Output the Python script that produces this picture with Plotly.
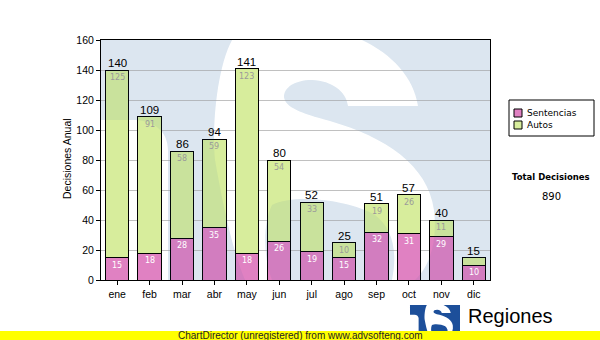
import plotly.graph_objects as go

# ---- data -------------------------------------------------------------
months = ["ene", "feb", "mar", "abr", "may", "jun", "jul", "ago", "sep", "oct", "nov", "dic"]
sentencias = [15, 18, 28, 35, 18, 26, 19, 15, 32, 31, 29, 10]
autos = [125, 91, 58, 59, 123, 54, 33, 10, 19, 26, 11, 5]
y_ticks = [0, 20, 40, 60, 80, 100, 120, 140, 160]
series_names = ["Sentencias", "Autos"]
totals = [s + a for s, a in zip(sentencias, autos)]
grand_total = sum(totals)

# ---- geometry / style -------------------------------------------------
W, H = 600, 340
PL, PR, PT, PB = 101, 490, 40, 280          # plot area in page pixels
PINK = "#e081c2"
GREEN = "#d7ed9c"
MIN_LABEL_VALUE = 8                          # segments smaller than this get no label


def to_paper(x, y):
    """page pixel -> paper coordinates"""
    return (x - PL) / (PR - PL), (PB - y) / (PB - PT)


# "S" emblem outline, drawn in the watermark box (PL..PR, PT..PB)
S_OUTLINE = [
    ("M", [(232, 40)]),
    ("L", [(362, 40)]),
    ("C", [(392, 54), (414, 78), (418, 106)]),
    ("L", [(348, 106)]),
    ("C", [(346, 91), (332, 81), (312, 80)]),
    ("C", [(294, 80), (284, 88), (284, 97)]),
    ("C", [(285, 107), (300, 113), (330, 121)]),
    ("C", [(385, 137), (428, 165), (434, 210)]),
    ("C", [(438, 245), (428, 268), (415, 280)]),
    ("L", [(392, 280)]),
    ("C", [(398, 250), (392, 228), (375, 215)]),
    ("C", [(350, 200), (295, 193), (272, 205)]),
    ("C", [(262, 225), (264, 260), (272, 280)]),
    ("L", [(245, 280)]),
    ("C", [(232, 250), (222, 200), (215, 160)]),
    ("C", [(212, 130), (216, 70), (232, 40)]),
]
S_TERMINAL = [
    ("M", [(101, 120)]),
    ("L", [(135, 120)]),
    ("C", [(155, 121), (168, 132), (168, 150)]),
    ("L", [(168, 280)]),
    ("L", [(101, 280)]),
]
BOX = [("M", [(PL, PT)]), ("L", [(PR, PT)]), ("L", [(PR, PB)]), ("L", [(PL, PB)])]


def path_string(parts, fit):
    out = []
    for sub in parts:
        for cmd, pts in sub:
            coords = " ".join("%.4f,%.4f" % to_paper(*fit(x, y)) for x, y in pts)
            out.append(cmd + coords)
        out.append("Z")
    return " ".join(out)


def fit_box(x0, y0, x1, y1):
    def f(x, y):
        return (x0 + (x - PL) / (PR - PL) * (x1 - x0),
                y0 + (y - PT) / (PB - PT) * (y1 - y0))
    return f


# ---- figure -----------------------------------------------------------
fig = go.Figure()
fig.add_trace(go.Bar(x=months, y=sentencias, name=series_names[0],
                     marker=dict(color=PINK, line=dict(color="black", width=1))))
fig.add_trace(go.Bar(x=months, y=autos, name=series_names[1],
                     marker=dict(color=GREEN, line=dict(color="black", width=1))))

shapes = []
# watermark emblem: solid tone behind the grid plus a faint tint over the bars
wm_path = path_string([BOX, S_OUTLINE, S_TERMINAL], lambda x, y: (x, y))
shapes.append(dict(type="path", xref="paper", yref="paper", layer="below",
                   path=wm_path, fillrule="evenodd", fillcolor="#ebf2f7",
                   line=dict(width=0)))
shapes.append(dict(type="path", xref="paper", yref="paper", layer="above",
                   path=wm_path, fillrule="evenodd", fillcolor="rgba(30,90,150,0.07)",
                   line=dict(width=0)))

# legend box
lx0, ly0 = to_paper(509, 100)
lx1, ly1 = to_paper(594, 136)
shapes.append(dict(type="rect", xref="paper", yref="paper", x0=lx0, y0=ly0, x1=lx1, y1=ly1,
                   line=dict(color="black", width=1), fillcolor="white"))
for i, col in enumerate([PINK, GREEN]):
    cy = 113 + 12 * i
    a = to_paper(514, cy - 4)
    b = to_paper(522, cy + 4)
    shapes.append(dict(type="rect", xref="paper", yref="paper",
                       x0=a[0], y0=a[1], x1=b[0], y1=b[1],
                       line=dict(color="black", width=1), fillcolor=col))

# emblem next to "Regiones"
shapes.append(dict(type="path", xref="paper", yref="paper",
                   path=path_string([BOX, S_OUTLINE, S_TERMINAL], fit_box(410, 305, 460, 334)),
                   fillrule="evenodd", fillcolor="#1d4f9a", line=dict(width=0)))

# yellow footer strip
fx0, fy0 = to_paper(0, 331)
fx1, fy1 = to_paper(W, H)
shapes.append(dict(type="rect", xref="paper", yref="paper", x0=fx0, y0=fy0, x1=fx1, y1=fy1,
                   line=dict(width=0), fillcolor="#ffff00"))

ann = []
for m, s, a, t in zip(months, sentencias, autos, totals):
    ann.append(dict(x=m, y=t, xref="x", yref="y", text=str(t), showarrow=False,
                    yanchor="bottom", yshift=-1,
                    font=dict(family="Liberation Sans, Arial", size=11.5, color="black")))
    if s >= MIN_LABEL_VALUE:
        ann.append(dict(x=m, y=s, xref="x", yref="y", text=str(s), showarrow=False,
                        yanchor="top", yshift=-1,
                        font=dict(family="DejaVu Sans", size=8, color="white")))
    if a >= MIN_LABEL_VALUE:
        ann.append(dict(x=m, y=t, xref="x", yref="y", text=str(a), showarrow=False,
                        yanchor="top", yshift=-1,
                        font=dict(family="DejaVu Sans", size=8, color="#9a9a9a")))


def page_text(x, y, text, size, family="DejaVu Sans", xanchor="center", **kw):
    px_, py_ = to_paper(x, y)
    ann.append(dict(x=px_, y=py_, xref="paper", yref="paper", text=text, showarrow=False,
                    xanchor=xanchor, yanchor="middle",
                    font=dict(family=family, size=size, color=kw.pop("color", "black")), **kw))


page_text(67, 159, "Decisiones Anual", 10.5, family="Liberation Sans, Arial", textangle=-90)
for i, name in enumerate(series_names):
    page_text(525, 113 + 12 * i, name, 9, xanchor="left")
page_text(551, 177, "<b>Total Decisiones</b>", 8.5)
page_text(551, 196, str(grand_total), 10)
page_text(466, 316, "Regiones", 20, family="Liberation Sans, Arial", xanchor="left")
page_text(300, 335.5, "ChartDirector (unregistered) from www.advsofteng.com", 10,
          family="Liberation Sans, Arial", color="#222222")

fig.update_layout(
    width=W, height=H,
    margin=dict(l=PL, r=W - PR, t=PT, b=H - PB, pad=0),
    paper_bgcolor="white", plot_bgcolor="white",
    barmode="stack", bargap=0.28,
    showlegend=False,
    shapes=shapes, annotations=ann,
    font=dict(family="Liberation Sans, Arial", size=10.5, color="black"),
    xaxis=dict(type="category", categoryorder="array", categoryarray=months,
               showline=True, linecolor="black", linewidth=1, mirror=True,
               ticks="outside", ticklen=4, tickcolor="black", showgrid=False,
               tickfont=dict(size=10.5)),
    yaxis=dict(range=[0, 160], tickvals=y_ticks, showline=True, linecolor="black",
               linewidth=1, mirror=True, ticks="outside", ticklen=4, tickcolor="black",
               showgrid=True, gridcolor="#c0c0c0", gridwidth=1, zeroline=False,
               tickfont=dict(size=10.5)),
)

fig.write_html("out.html")
